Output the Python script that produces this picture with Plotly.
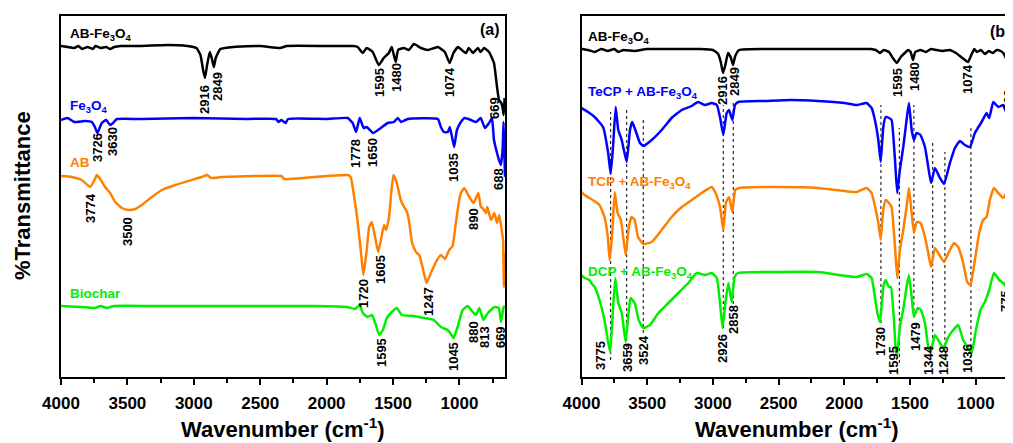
import plotly.graph_objects as go

# ---------------- Panel (a) data ----------------
a_abfe_w = [4000, 3950, 3900, 3870, 3840, 3800, 3760, 3740, 3700, 3660, 3630, 3600, 3550, 3400, 3200, 3050, 2980, 2950, 2930, 2916,
            2900, 2880, 2865, 2849, 2835, 2800, 2700, 2500, 2350, 2300, 2000, 1800, 1766, 1728, 1698, 1653, 1608, 1570, 1532, 1510,
            1480, 1462, 1419, 1381, 1343, 1290, 1237, 1162, 1110, 1074, 1045, 1011, 974, 950, 930, 898, 861, 840, 815, 777,
            740, 717, 702, 685, 672, 667, 660]
a_abfe_t = [331, 330, 329, 331, 328, 330, 328, 331, 329, 330, 328, 330, 331, 331, 332, 331, 329, 322, 307, 299,
            312, 325, 319, 310, 319, 328, 330, 331, 329, 331, 331, 331, 330, 324, 329, 325, 312, 319, 324, 330,
            315, 327, 329, 327, 333, 329, 327, 330, 325, 314, 324, 330, 326, 324, 329, 324, 329, 325, 329, 325,
            314, 290, 277, 274, 267, 262, 279]

a_fe_w = [4000, 3951, 3900, 3819, 3768, 3745, 3726, 3693, 3660, 3630, 3608, 3580, 3400, 3000, 2600, 2380, 2362, 2340, 2310, 2290,
          2000, 1842, 1804, 1778, 1751, 1721, 1698, 1650, 1592, 1540, 1494, 1464, 1440, 1389, 1162, 1140, 1117, 1087, 1072, 1040,
          1019, 989, 960, 913, 875, 840, 808, 777, 755, 740, 717, 702, 688, 675, 668, 662, 657]
a_fe_t = [257, 259, 255, 256, 255, 250, 244, 254, 257, 252, 254, 258, 258, 259, 258, 258, 255, 257, 254, 258,
          258, 259, 254, 245, 259, 249, 250, 244, 249, 254, 255, 259, 255, 258, 258, 250, 245, 245, 250, 230,
          247, 255, 259, 257, 255, 259, 249, 254, 259, 237, 224, 217, 212, 227, 255, 227, 200]

a_ab_w = [4000, 3919, 3844, 3781, 3748, 3730, 3705, 3668, 3630, 3592, 3542, 3492, 3442, 3392, 3316, 3240, 3140, 3042, 2941, 2900,
          2870, 2791, 2540, 2340, 2320, 2000, 1842, 1819, 1789, 1768, 1743, 1723, 1698, 1680, 1660, 1635, 1612, 1587, 1568, 1553,
          1538, 1528, 1515, 1497, 1472, 1442, 1417, 1395, 1381, 1356, 1328, 1303, 1278, 1248, 1215, 1177, 1140, 1109, 1077, 1052,
          1027, 1002, 989, 964, 926, 893, 858, 838, 826, 800, 790, 762, 737, 717, 700, 682, 672, 665, 657]
a_ab_t = [201, 200, 197, 190, 197, 202, 198, 190, 184, 175, 169, 167, 168, 172, 180, 187, 192, 196, 200, 202,
          199, 200, 201, 201, 198, 201, 202, 200, 177, 157, 127, 102, 127, 150, 155, 140, 125, 140, 152, 147,
          154, 162, 182, 202, 194, 177, 170, 165, 157, 134, 125, 122, 110, 94, 104, 115, 122, 118, 127, 131,
          154, 177, 184, 189, 180, 174, 184, 170, 169, 164, 170, 157, 164, 154, 162, 147, 137, 90, 124]

a_bc_w = [4000, 3850, 3747, 3700, 3656, 3600, 3300, 3000, 2700, 2400, 2100, 1847, 1785, 1751, 1728, 1692, 1659, 1634, 1604, 1576,
          1547, 1509, 1472, 1434, 1343, 1268, 1193, 1140, 1089, 1059, 1044, 1014, 976, 938, 900, 875, 850, 820, 786, 737,
          704, 687, 667, 657]
a_bc_t = [71, 70, 69, 71, 69, 71, 71, 71, 71, 71, 71, 70, 68, 72, 64, 60, 62, 54, 42, 47,
          59, 65, 69, 62, 61, 59, 57, 50, 47, 42, 39, 50, 67, 71, 65, 62, 69, 57, 64, 70,
          69, 55, 70, 71]

# ---------------- Panel (b) data ----------------
b_abfe_w = [4000, 3950, 3900, 3850, 3800, 3750, 3720, 3680, 3600, 3500, 3300, 3100, 3000, 2960, 2940, 2923, 2905, 2885, 2865, 2847,
            2830, 2800, 2600, 2300, 2000, 1800, 1760, 1728, 1700, 1660, 1630, 1600, 1570, 1540, 1515, 1495, 1477, 1460, 1420, 1380,
            1340, 1300, 1250, 1200, 1150, 1100, 1058, 1030, 1010, 990, 960, 930, 900, 870, 840, 810, 790, 770, 750, 740,
            733, 725, 716, 700]
b_abfe_t = [328, 327, 325, 328, 326, 328, 325, 327, 326, 328, 328, 328, 327, 323, 315, 304, 312, 324, 320, 312,
            321, 327, 328, 328, 328, 328, 327, 324, 327, 325, 319, 314, 320, 324, 327, 325, 317, 325, 327, 325,
            328, 327, 326, 327, 324, 319, 315, 323, 328, 325, 327, 323, 326, 324, 327, 326, 324, 319, 311, 302,
            287, 277, 275, 273]

b_tecp_w = [4000, 3950, 3900, 3836, 3797, 3778, 3760, 3740, 3720, 3694, 3656, 3631, 3614, 3590, 3555, 3530, 3466, 3390, 3314, 3237,
            3161, 3113, 3060, 3009, 2970, 2946, 2921, 2895, 2877, 2852, 2832, 2807, 2600, 2413, 2200, 2000, 1906, 1830, 1792, 1767,
            1741, 1723, 1703, 1685, 1660, 1640, 1614, 1597, 1577, 1551, 1526, 1508, 1487, 1470, 1450, 1420, 1386, 1361, 1340, 1310,
            1276, 1241, 1196, 1158, 1120, 1082, 1044, 1006, 955, 917, 897, 866, 828, 790, 764, 739, 716, 700]
b_tecp_t = [269, 265, 260, 250, 224, 203, 230, 270, 247, 237, 215, 247, 255, 247, 234, 231, 237, 247, 259, 267,
            271, 275, 272, 274, 272, 260, 242, 264, 267, 257, 272, 275, 276, 277, 276, 274, 272, 274, 269, 257,
            237, 215, 250, 260, 259, 257, 217, 184, 207, 230, 257, 274, 247, 237, 244, 242, 230, 210, 194, 209,
            200, 193, 214, 229, 236, 232, 230, 244, 255, 264, 259, 275, 270, 272, 264, 274, 271, 265]

b_tcp_w = [4000, 3977, 3914, 3863, 3825, 3800, 3786, 3766, 3747, 3725, 3700, 3664, 3640, 3619, 3595, 3570, 3530, 3466, 3390, 3314,
           3237, 3161, 3085, 3009, 2980, 2946, 2921, 2900, 2877, 2852, 2830, 2800, 2500, 2200, 1906, 1830, 1792, 1760, 1741, 1723,
           1703, 1685, 1660, 1640, 1614, 1597, 1577, 1551, 1526, 1508, 1487, 1470, 1450, 1420, 1386, 1361, 1340, 1310, 1276, 1241,
           1196, 1165, 1133, 1095, 1064, 1039, 1006, 973, 943, 917, 892, 861, 828, 790, 752, 727, 716, 700]
b_tcp_t = [185, 182, 177, 172, 160, 140, 117, 144, 185, 164, 157, 122, 150, 160, 157, 140, 133, 135, 147, 160,
           170, 177, 184, 190, 184, 170, 147, 175, 180, 165, 187, 189, 190, 189, 185, 189, 184, 167, 154, 137,
           167, 177, 174, 170, 130, 99, 127, 147, 170, 189, 164, 144, 155, 154, 140, 124, 110, 129, 122, 115,
           127, 134, 130, 114, 95, 92, 117, 144, 157, 160, 177, 189, 184, 179, 187, 170, 162, 155]

b_dcp_w = [4000, 3977, 3940, 3914, 3900, 3863, 3825, 3800, 3782, 3765, 3743, 3720, 3694, 3664, 3640, 3626, 3595, 3565, 3530, 3479,
           3415, 3339, 3263, 3187, 3123, 3060, 3009, 2970, 2946, 2926, 2905, 2882, 2857, 2835, 2810, 2500, 2200, 1906, 1830, 1792,
           1767, 1748, 1728, 1703, 1685, 1660, 1645, 1622, 1608, 1597, 1577, 1548, 1526, 1508, 1487, 1470, 1442, 1417, 1386, 1361,
           1343, 1310, 1276, 1246, 1208, 1171, 1133, 1095, 1057, 1031, 998, 963, 930, 897, 861, 821, 790, 764, 752, 719, 700]
b_dcp_t = [102, 99, 97, 92, 90, 77, 57, 37, 25, 57, 99, 74, 64, 35, 67, 79, 74, 57, 49, 52,
           64, 74, 84, 94, 104, 102, 104, 99, 74, 49, 74, 94, 75, 100, 104, 105, 105, 100, 103, 99,
           80, 64, 55, 90, 97, 90, 90, 57, 27, 22, 50, 70, 90, 102, 80, 60, 69, 67, 54, 30,
           25, 42, 35, 29, 40, 47, 52, 37, 29, 24, 47, 67, 75, 87, 104, 97, 94, 90, 100, 84, 75]

# Peak guide lines in panel (b): wavenumber, upper and lower level
guide_w = [3778, 3656, 3530, 2921, 2845, 1721, 1581, 1470, 1327, 1234, 1036, 760]
guide_top = [265, 270, 258, 272, 277, 272, 249, 272, 235, 225, 249, 267]
guide_bot = [17, 24, 44, 49, 67, 54, 14, 60, 27, 25, 24, 90]

# Peak labels: text, wavenumber position, level position
a_peak_txt = ["2916", "2849", "1595", "1480", "1074", "669", "3726", "3630", "1778", "1650", "1035", "688",
              "3774", "3500", "1720", "1605", "1247", "890", "1595", "1045", "880", "813", "669"]
a_peak_x = [2916, 2818, 1598, 1470, 1071, 732, 3721, 3608, 1779, 1651, 1041, 702,
            3774, 3495, 1726, 1598, 1236, 890, 1590, 1048, 898, 815, 694]
a_peak_y = [278, 291, 294, 299, 295, 269, 229, 235, 224, 225, 209, 198,
            169, 145, 83, 107, 75, 158, 24, 20, 45, 40, 40]

b_peak_txt = ["2916", "2849", "1595", "1480", "1074", "669", "3775", "3659", "3524", "2926", "2858",
              "1730", "1595", "1479", "1344", "1248", "1036", "775", "669"]
b_peak_x = [2923, 2832, 1591, 1461, 1059, 747, 3859, 3654, 3532, 2931, 2847,
            1728, 1630, 1461, 1363, 1249, 1066, 777, 739]
b_peak_y = [286, 296, 294, 300, 298, 277, 21, 20, 27, 29, 58,
            35, 17, 40, 17, 17, 18, 76, 24]

BLACK, BLUE, ORANGE, GREEN = "#000000", "#0000FF", "#FF8000", "#00EE00"
FONT = "Liberation Sans, Arial, sans-serif"

# page offset of the plotly div inside the html body (default 8 px body margin)
OFF = 8
W, H = 1013, 443

fig = go.Figure()

def add(w, t, color, xa, ya, name):
    fig.add_trace(go.Scatter(x=w, y=t, mode="lines", name=name, xaxis=xa, yaxis=ya,
                             line=dict(color=color, width=2.5, shape="spline", smoothing=0.4),
                             showlegend=False))

add(a_abfe_w, a_abfe_t, BLACK, "x", "y", "AB-Fe3O4")
add(a_fe_w, a_fe_t, BLUE, "x", "y", "Fe3O4")
add(a_ab_w, a_ab_t, ORANGE, "x", "y", "AB")
add(a_bc_w, a_bc_t, GREEN, "x", "y", "Biochar")
add(b_abfe_w, b_abfe_t, BLACK, "x2", "y2", "AB-Fe3O4")
add(b_tecp_w, b_tecp_t, BLUE, "x2", "y2", "TeCP + AB-Fe3O4")
add(b_tcp_w, b_tcp_t, ORANGE, "x2", "y2", "TCP + AB-Fe3O4")
add(b_dcp_w, b_dcp_t, GREEN, "x2", "y2", "DCP + AB-Fe3O4")

for gw, gt, gb in zip(guide_w, guide_top, guide_bot):
    fig.add_shape(type="line", xref="x2", yref="y2", x0=gw, x1=gw, y0=gb, y1=gt,
                  line=dict(color="black", width=1, dash="dot"), layer="below")

ann = []
pk_font = dict(size=13, color="black", family=FONT, weight="bold")
for txt, x, y in zip(a_peak_txt, a_peak_x, a_peak_y):
    ann.append(dict(text=txt, x=x, y=y, xref="x", yref="y", showarrow=False, textangle=-90,
                    xanchor="center", yanchor="middle", font=pk_font))
for txt, x, y in zip(b_peak_txt, b_peak_x, b_peak_y):
    ann.append(dict(text=txt, x=x, y=y, xref="x2", yref="y2", showarrow=False, textangle=-90,
                    xanchor="center", yanchor="middle", font=pk_font))

series_a = [("AB-Fe<sub>3</sub>O<sub>4</sub>", 342, BLACK), ("Fe<sub>3</sub>O<sub>4</sub>", 270, BLUE),
            ("AB", 214, ORANGE), ("Biochar", 84, GREEN)]
series_b = [("AB-Fe<sub>3</sub>O<sub>4</sub>", 339, BLACK), ("TeCP + AB-Fe<sub>3</sub>O<sub>4</sub>", 284, BLUE),
            ("TCP + AB-Fe<sub>3</sub>O<sub>4</sub>", 194, ORANGE), ("DCP + AB-Fe<sub>3</sub>O<sub>4</sub>", 105, GREEN)]
for txt, y, c in series_a:
    ann.append(dict(text=txt, x=3947, y=y, xref="x", yref="y", showarrow=False, xanchor="left", yanchor="middle",
                    font=dict(size=13.5, color=c, family=FONT, weight="bold")))
for txt, y, c in series_b:
    ann.append(dict(text=txt, x=3966, y=y, xref="x2", yref="y2", showarrow=False, xanchor="left", yanchor="middle",
                    font=dict(size=13.5, color=c, family=FONT, weight="bold")))

ann.append(dict(text="(a)", x=770, y=347, xref="x", yref="y", showarrow=False, xanchor="center", yanchor="middle",
                font=dict(size=16, color="black", family=FONT, weight="bold")))
ann.append(dict(text="(b)", x=815, y=345, xref="x2", yref="y2", showarrow=False, xanchor="center", yanchor="middle",
                font=dict(size=16, color="black", family=FONT, weight="bold")))

# axis titles (page pixel targets converted to paper fractions)
ann.append(dict(text="%Transmittance", x=(22 - OFF) / W, y=(H - (196 - OFF)) / H, xref="paper", yref="paper",
                showarrow=False, textangle=-90, xanchor="center", yanchor="middle",
                font=dict(size=22, color="black", family=FONT, weight="bold")))
for cx in (283, 797):
    ann.append(dict(text="Wavenumber (cm<sup>-1</sup>)", x=(cx - OFF) / W, y=(H - (428 - OFF)) / H,
                    xref="paper", yref="paper", showarrow=False, xanchor="center", yanchor="middle",
                    font=dict(size=22, color="black", family=FONT, weight="bold")))

xcommon = dict(showline=True, linewidth=2, linecolor="black", mirror=True, ticks="outside", ticklen=6, tickwidth=2,
               tickcolor="black", tick0=0, dtick=500, showgrid=False, zeroline=False, automargin=False,
               ticklabelstandoff=4,
               tickfont=dict(size=17, color="black", family=FONT, weight="bold"),
               minor=dict(dtick=250, ticks="outside", ticklen=4, tickwidth=2, tickcolor="black", showgrid=False))
ycommon = dict(showline=True, linewidth=2, linecolor="black", ticks="", showticklabels=False, showgrid=False,
               zeroline=False, range=[0, 361], automargin=False)

ydom = [(H - (377 - OFF)) / H, (H - (16 - OFF)) / H]
fig.update_layout(
    width=W, height=H, margin=dict(l=0, r=0, t=0, b=0, autoexpand=False),
    paper_bgcolor="white", plot_bgcolor="white",
    xaxis=dict(domain=[(61 - OFF) / W, (505 - OFF) / W], range=[4000, 657], anchor="y", **xcommon),
    yaxis=dict(domain=ydom, anchor="x", mirror=True, **ycommon),
    xaxis2=dict(domain=[(581.5 - OFF) / W, 1.0], range=[4000, 655], anchor="y2", **xcommon),
    yaxis2=dict(domain=ydom, anchor="x2", mirror=False, **ycommon),
    annotations=ann,
)

fig.write_html("out.html")
